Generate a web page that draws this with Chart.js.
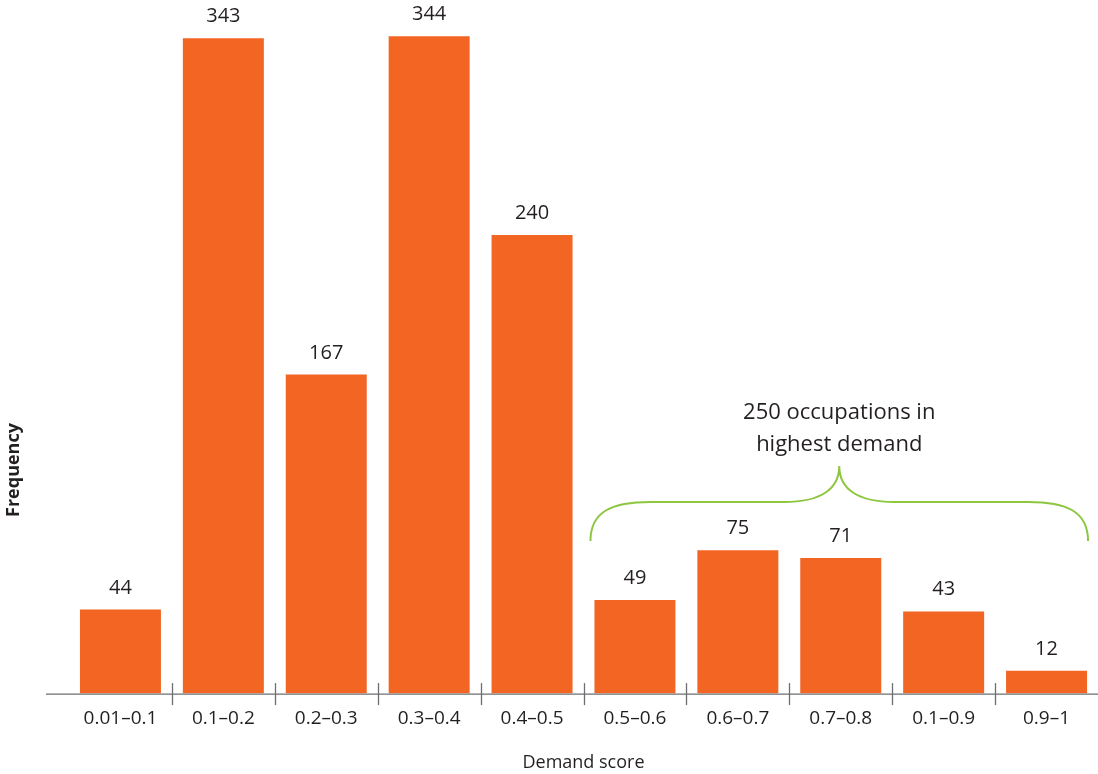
<!DOCTYPE html>
<html>
<head>
<meta charset="utf-8">
<script src="https://cdn.jsdelivr.net/npm/chart.js@4/dist/chart.umd.min.js"></script>
<style>
  html, body { margin: 0; padding: 0; background: #ffffff; }
  #wrap { width: 1098px; height: 774px; }
</style>
</head>
<body>
<div id="wrap"><canvas id="chart" width="1098" height="774"></canvas></div>
<script>
// Demand score bins and how many occupations fall in each
const categories = ['0.01–0.1', '0.1–0.2', '0.2–0.3', '0.3–0.4', '0.4–0.5',
                    '0.5–0.6', '0.6–0.7', '0.7–0.8', '0.1–0.9', '0.9–1'];
const frequency = [44, 343, 167, 344, 240, 49, 75, 71, 43, 12];

// Bracketed group of the top bins
const bracketFirst = 5;
const bracketLast = 9;
const bracketText = ['250 occupations in', 'highest demand'];

const yAxisTitle = 'Frequency';
const xAxisTitle = 'Demand score';

const TEXT = '#231f20';
const BAR = '#f26522';
const AXIS = '#6d6e71';
const GREEN = '#8dc63f';
const FONT = '"Open Sans", "Noto Sans", sans-serif';

const decorations = {
  id: 'decorations',
  afterDatasetsDraw(chart) {
    const ctx = chart.ctx;
    const xs = chart.scales.x;
    const area = chart.chartArea;
    const bars = chart.getDatasetMeta(0).data;
    const axisY = area.bottom + 0.5;

    ctx.save();
    // baseline
    ctx.strokeStyle = AXIS;
    ctx.lineWidth = 1.3;
    ctx.beginPath();
    ctx.moveTo(46, axisY);
    ctx.lineTo(chart.width, axisY);
    ctx.stroke();

    // boundary ticks crossing the baseline
    for (let i = 0; i < categories.length - 1; i++) {
      const bx = Math.round((xs.getPixelForValue(i) + xs.getPixelForValue(i + 1)) / 2) + 0.5;
      ctx.beginPath();
      ctx.moveTo(bx, axisY - 11);
      ctx.lineTo(bx, axisY + 11);
      ctx.stroke();
    }

    // value labels
    ctx.fillStyle = TEXT;
    ctx.font = '20px ' + FONT;
    ctx.textAlign = 'center';
    ctx.textBaseline = 'alphabetic';
    bars.forEach((bar, i) => {
      ctx.fillText(String(frequency[i]), bar.x, bar.y - 16);
    });

    // brace over the top bins
    const b0 = bars[bracketFirst], b1 = bars[bracketLast];
    const L = b0.x - b0.width / 2 - 4;
    const R = b1.x + b1.width / 2 + 1;
    const M = (L + R) / 2;
    const yEnd = 541, yMid = 502, yPeak = 466;
    ctx.strokeStyle = GREEN;
    ctx.lineWidth = 2;
    ctx.beginPath();
    ctx.moveTo(L, yEnd);
    ctx.bezierCurveTo(L, yEnd - 30, L + 22, yMid, L + 60, yMid);
    ctx.lineTo(M - 55, yMid);
    ctx.bezierCurveTo(M - 20, yMid, M, yMid - 12, M, yPeak);
    ctx.bezierCurveTo(M, yMid - 12, M + 20, yMid, M + 55, yMid);
    ctx.lineTo(R - 60, yMid);
    ctx.bezierCurveTo(R - 22, yMid, R, yEnd - 30, R, yEnd);
    ctx.stroke();

    ctx.fillStyle = TEXT;
    ctx.font = '22px ' + FONT;
    ctx.textBaseline = 'middle';
    ctx.fillText(bracketText[0], M, 413);
    ctx.fillText(bracketText[1], M, 445);

    // vertical axis title
    ctx.translate(14, 470);
    ctx.rotate(-Math.PI / 2);
    ctx.font = 'bold 18px ' + FONT;
    ctx.fillText(yAxisTitle, 0, 0);
    ctx.restore();
  }
};

new Chart(document.getElementById('chart'), {
  type: 'bar',
  data: {
    labels: categories,
    datasets: [{
      data: frequency,
      backgroundColor: BAR,
      borderWidth: 0,
      categoryPercentage: 1,
      barPercentage: 0.787
    }]
  },
  options: {
    responsive: false,
    animation: false,
    layout: { padding: { left: 69, right: 0, top: 0, bottom: 0 } },
    plugins: {
      legend: { display: false },
      tooltip: { enabled: false }
    },
    scales: {
      x: {
        offset: true,
        grid: { display: false, drawTicks: false },
        border: { display: false },
        ticks: { color: TEXT, font: { family: FONT, size: 19 }, padding: 14, maxRotation: 0 },
        title: {
          display: true,
          text: xAxisTitle,
          color: TEXT,
          font: { family: FONT, size: 18 },
          padding: { top: 8, bottom: 0 }
        }
      },
      y: {
        display: false,
        min: 0,
        max: 363
      }
    }
  },
  plugins: [decorations]
});
</script>
</body>
</html>
